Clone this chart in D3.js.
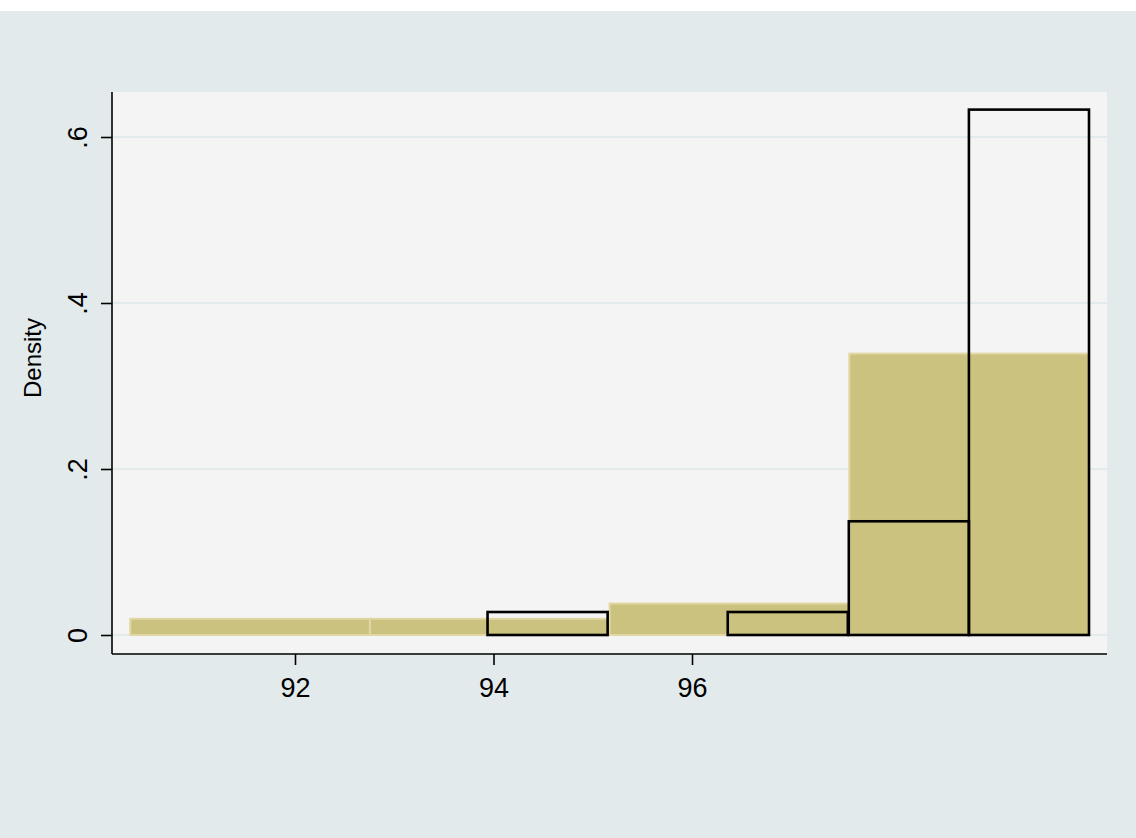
<!DOCTYPE html>
<html>
<head>
<meta charset="utf-8">
<script src="https://cdn.jsdelivr.net/npm/d3@7"></script>
<style>
  html, body { margin: 0; padding: 0; background: #ffffff; }
  svg { display: block; }
  text { font-family: Arial, "Liberation Sans", sans-serif; fill: #000; }
</style>
</head>
<body>
<div id="chart"></div>
<script>
// wide bins (filled)
var wideStarts = [90.34, 92.755, 95.17, 97.585];
var wideWidth = 2.415;
var wideDensity = [0.0195, 0.0195, 0.038, 0.339];

// narrow bins (outlined)
var narrowStarts = [92.73, 93.94, 95.15, 96.36, 97.58, 98.79];
var narrowWidth = 1.21;
var narrowDensity = [0, 0.0277, 0, 0.0277, 0.137, 0.633];

var xTicks = [92, 94, 96];
var yTicks = [0, 0.2, 0.4, 0.6];
var yTickLabels = ["0", ".2", ".4", ".6"];

var W = 1136, H = 838;

var svg = d3.select("#chart")
    .append("svg")
    .attr("width", W)
    .attr("height", H);

// outer background (white strip at the top)
svg.append("rect")
    .attr("x", 0).attr("y", 11)
    .attr("width", W).attr("height", H - 11)
    .attr("fill", "#e3eaec");

var plot = {left: 112, right: 1107, top: 92, bottom: 654};

svg.append("rect")
    .attr("x", plot.left).attr("y", plot.top)
    .attr("width", plot.right - plot.left)
    .attr("height", plot.bottom - plot.top)
    .attr("fill", "#f4f4f4");

var x = d3.scaleLinear()
    .domain([92, 94])
    .range([295, 493.5]);

var y = d3.scaleLinear()
    .domain([0, 0.6])
    .range([635, 137]);

// gridlines
svg.append("g")
  .selectAll("line")
  .data(yTicks)
  .enter()
  .append("line")
    .attr("x1", plot.left).attr("x2", plot.right)
    .attr("y1", d => y(d)).attr("y2", d => y(d))
    .attr("stroke", "#e3eaec")
    .attr("stroke-width", 2);

// filled histogram
svg.append("g")
  .selectAll("rect")
  .data(wideStarts)
  .enter()
  .append("rect")
    .attr("x", (d, i) => x(d))
    .attr("y", (d, i) => y(wideDensity[i]))
    .attr("width", (d, i) => x(d + wideWidth) - x(d))
    .attr("height", (d, i) => y(0) - y(wideDensity[i]))
    .attr("fill", "#cbc27f")
    .attr("stroke", "#e2d6a4")
    .attr("stroke-width", 2);

// outlined histogram
svg.append("g")
  .selectAll("rect")
  .data(narrowStarts.filter((d, i) => narrowDensity[i] > 0))
  .enter()
  .append("rect")
    .attr("x", d => x(d))
    .attr("y", d => y(narrowDensity[narrowStarts.indexOf(d)]))
    .attr("width", d => x(d + narrowWidth) - x(d))
    .attr("height", d => y(0) - y(narrowDensity[narrowStarts.indexOf(d)]))
    .attr("fill", "none")
    .attr("stroke", "#000")
    .attr("stroke-width", 2.6);

// y axis
var yAxis = svg.append("g")
    .attr("transform", "translate(" + plot.left + ",0)")
    .call(d3.axisLeft(y)
        .tickValues(yTicks)
        .tickSize(11)
        .tickPadding(6)
        .tickFormat((d, i) => yTickLabels[i]));
yAxis.select(".domain")
    .attr("d", "M0," + plot.top + "V" + plot.bottom)
    .attr("stroke", "#000").attr("stroke-width", 1.6);
yAxis.selectAll(".tick line").attr("stroke", "#000").attr("stroke-width", 1.6);
yAxis.selectAll(".tick text")
    .attr("font-size", 27)
    .attr("font-family", "Arial, 'Liberation Sans', sans-serif")
    .attr("x", null).attr("dy", null)
    .attr("text-anchor", "middle")
    .attr("transform", "translate(-25,0) rotate(-90)");

// x axis
var xAxis = svg.append("g")
    .attr("transform", "translate(0," + plot.bottom + ")")
    .call(d3.axisBottom(x)
        .tickValues(xTicks)
        .tickSize(11)
        .tickPadding(12)
        .tickFormat(d3.format("d")));
xAxis.select(".domain")
    .attr("d", "M" + plot.left + ",0H" + plot.right)
    .attr("stroke", "#000").attr("stroke-width", 1.6);
xAxis.selectAll(".tick line").attr("stroke", "#000").attr("stroke-width", 1.6);
xAxis.selectAll(".tick text")
    .attr("font-size", 27)
    .attr("font-family", "Arial, 'Liberation Sans', sans-serif")
    .attr("y", 43).attr("dy", null);

// axis title
svg.append("text")
    .attr("transform", "translate(41,358) rotate(-90)")
    .attr("text-anchor", "middle")
    .attr("font-size", 24)
    .text("Density");
</script>
</body>
</html>
